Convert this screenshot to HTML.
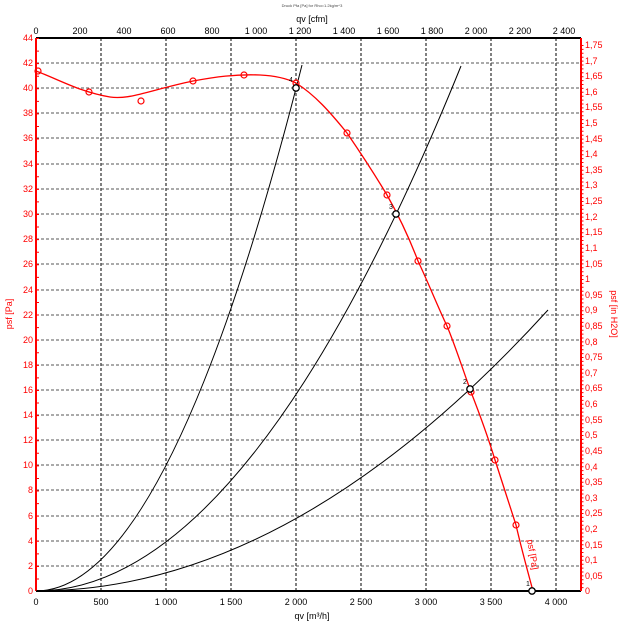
<!DOCTYPE html>
<html><head><style>body{margin:0;background:#fff}svg{display:block;font-family:"Liberation Sans",sans-serif}</style></head><body>
<svg width="624" height="624" viewBox="0 0 624 624" xmlns="http://www.w3.org/2000/svg">
<text x="312" y="7" font-size="4" text-anchor="middle" fill="#444">Druck Pfa [Pa] for Rho=1.2kg/m^3</text>
<text x="312" y="22" font-size="9" text-anchor="middle">qv [cfm]</text>
<g font-size="9" text-anchor="middle" fill="#000">
<text x="36" y="34">0</text><text x="80" y="34">200</text><text x="124" y="34">400</text><text x="168" y="34">600</text><text x="212" y="34">800</text><text x="256" y="34">1 000</text><text x="300" y="34">1 200</text><text x="344" y="34">1 400</text><text x="388" y="34">1 600</text><text x="432" y="34">1 800</text><text x="476" y="34">2 000</text><text x="520" y="34">2 200</text><text x="564" y="34">2 400</text>
</g>
<g stroke="#000" stroke-width="1" stroke-dasharray="3,2">
<line x1="101" y1="38" x2="101" y2="591"/><line x1="166" y1="38" x2="166" y2="591"/><line x1="231" y1="38" x2="231" y2="591"/><line x1="296" y1="38" x2="296" y2="591"/><line x1="361" y1="38" x2="361" y2="591"/><line x1="426" y1="38" x2="426" y2="591"/><line x1="491" y1="38" x2="491" y2="591"/><line x1="556" y1="38" x2="556" y2="591"/>
</g>
<g stroke="#555" stroke-width="1" stroke-dasharray="3,2">
<line x1="36" y1="63" x2="581" y2="63"/><line x1="36" y1="88" x2="581" y2="88"/><line x1="36" y1="113" x2="581" y2="113"/><line x1="36" y1="138" x2="581" y2="138"/><line x1="36" y1="164" x2="581" y2="164"/><line x1="36" y1="189" x2="581" y2="189"/><line x1="36" y1="214" x2="581" y2="214"/><line x1="36" y1="239" x2="581" y2="239"/><line x1="36" y1="264" x2="581" y2="264"/><line x1="36" y1="290" x2="581" y2="290"/><line x1="36" y1="315" x2="581" y2="315"/><line x1="36" y1="340" x2="581" y2="340"/><line x1="36" y1="365" x2="581" y2="365"/><line x1="36" y1="390" x2="581" y2="390"/><line x1="36" y1="415" x2="581" y2="415"/><line x1="36" y1="440" x2="581" y2="440"/><line x1="36" y1="465" x2="581" y2="465"/><line x1="36" y1="490" x2="581" y2="490"/><line x1="36" y1="516" x2="581" y2="516"/><line x1="36" y1="541" x2="581" y2="541"/><line x1="36" y1="566" x2="581" y2="566"/>
</g>
<line x1="36" y1="38" x2="581" y2="38" stroke="#000" stroke-width="2"/>
<line x1="36" y1="591" x2="581" y2="591" stroke="#000" stroke-width="2"/>
<line x1="36" y1="38" x2="36" y2="591" stroke="#f00" stroke-width="2"/>
<line x1="581" y1="38" x2="581" y2="591" stroke="#f00" stroke-width="2"/>
<line x1="36" y1="38" x2="36" y2="591" stroke="#f00" stroke-width="3" stroke-dasharray="1,11.57" transform="translate(1.5,0)"/>
<line x1="582" y1="45" x2="582" y2="591" stroke="#f00" stroke-width="3" stroke-dasharray="1,2.9"/>
<g fill="#f00" font-size="9" text-anchor="end">
<text x="33" y="41">44</text><text x="33" y="66">42</text><text x="33" y="91">40</text><text x="33" y="116">38</text><text x="33" y="141">36</text><text x="33" y="167">34</text><text x="33" y="192">32</text><text x="33" y="217">30</text><text x="33" y="242">28</text><text x="33" y="267">26</text><text x="33" y="293">24</text><text x="33" y="318">22</text><text x="33" y="343">20</text><text x="33" y="368">18</text><text x="33" y="393">16</text><text x="33" y="418">14</text><text x="33" y="443">12</text><text x="33" y="468">10</text><text x="33" y="493">8</text><text x="33" y="519">6</text><text x="33" y="544">4</text><text x="33" y="569">2</text><text x="33" y="594">0</text>
</g>
<g fill="#f00" font-size="9">
<text x="585" y="48">1,75</text><text x="585" y="64">1,7</text><text x="585" y="79">1,65</text><text x="585" y="95">1,6</text><text x="585" y="110">1,55</text><text x="585" y="126">1,5</text><text x="585" y="142">1,45</text><text x="585" y="157">1,4</text><text x="585" y="173">1,35</text><text x="585" y="188">1,3</text><text x="585" y="204">1,25</text><text x="585" y="220">1,2</text><text x="585" y="235">1,15</text><text x="585" y="251">1,1</text><text x="585" y="267">1,05</text><text x="585" y="282">1</text><text x="585" y="298">0,95</text><text x="585" y="313">0,9</text><text x="585" y="329">0,85</text><text x="585" y="345">0,8</text><text x="585" y="360">0,75</text><text x="585" y="376">0,7</text><text x="585" y="391">0,65</text><text x="585" y="407">0,6</text><text x="585" y="423">0,55</text><text x="585" y="438">0,5</text><text x="585" y="454">0,45</text><text x="585" y="470">0,4</text><text x="585" y="485">0,35</text><text x="585" y="501">0,3</text><text x="585" y="516">0,25</text><text x="585" y="532">0,2</text><text x="585" y="548">0,15</text><text x="585" y="563">0,1</text><text x="585" y="579">0,05</text><text x="585" y="594">0</text>
</g>
<text transform="translate(12,314) rotate(-90)" font-size="9" fill="#f00" text-anchor="middle">psf [Pa]</text>
<text transform="translate(611,314) rotate(90)" font-size="9" fill="#f00" text-anchor="middle">psf [in H2O]</text>
<g font-size="9" text-anchor="middle">
<text x="36" y="605">0</text><text x="101" y="605">500</text><text x="166" y="605">1 000</text><text x="231" y="605">1 500</text><text x="296" y="605">2 000</text><text x="361" y="605">2 500</text><text x="426" y="605">3 000</text><text x="491" y="605">3 500</text><text x="556" y="605">4 000</text>
<text x="312" y="619">qv [m³/h]</text>
</g>
<g fill="none" stroke="#000" stroke-width="1">
<path d="M36,591 Q169,591 302,65"/>
<path d="M36,591 Q248.5,591 461,66"/>
<path d="M36,591 Q292,591 548,310"/>
</g>
<path d="M36,71 C60,80 80,92 110,97 C130,100 150,90 193,81 C215,77 235,74 260,75 C280,76 290,80 296,83 C315,95 330,112 347,133 C360,152 375,175 387,195 C400,218 410,240 418,261 C428,282 437,305 447,326 C455,345 463,370 471,392 C480,415 488,437 495,460 C502,482 509,503 516,525 C521,547 527,569 533,591" fill="none" stroke="#f00" stroke-width="1.3"/>
<g fill="none" stroke="#f00" stroke-width="1.2">
<circle cx="38" cy="71" r="3"/><circle cx="89" cy="92" r="3"/><circle cx="141" cy="101" r="3"/><circle cx="193" cy="81" r="3"/><circle cx="244" cy="75" r="3"/><circle cx="296" cy="83" r="3"/><circle cx="347" cy="133" r="3"/><circle cx="387" cy="195" r="3"/><circle cx="418" cy="261" r="3"/><circle cx="447" cy="326" r="3"/><circle cx="471" cy="392" r="3"/><circle cx="495" cy="460" r="3"/><circle cx="516" cy="525" r="3"/>
</g>
<g fill="#fff" stroke="#000" stroke-width="1.3">
<circle cx="296" cy="88" r="3.2"/><circle cx="396" cy="214" r="3.2"/><circle cx="470" cy="389" r="3.2"/><circle cx="532" cy="591" r="3.2"/>
</g>
<g font-size="7"><text x="289" y="82">4</text><text x="389" y="209">3</text><text x="463" y="384">2</text><text x="526" y="586">1</text></g>
<text transform="translate(527,540) rotate(80)" font-size="9" fill="#f00">psf [Pa]</text>
</svg>
</body></html>
